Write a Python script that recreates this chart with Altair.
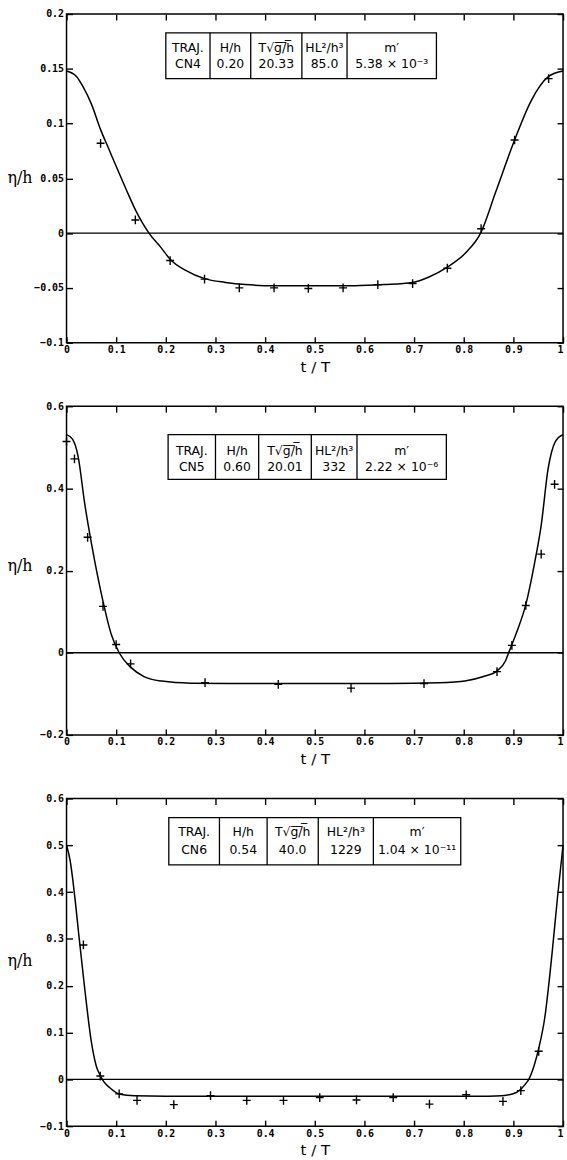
import altair as alt
import pandas as pd

# ---------------- data ----------------
# CN4
p1_t = [0.0686, 0.1386, 0.2087, 0.278, 0.348, 0.418, 0.487, 0.557, 0.627, 0.697, 0.767, 0.835, 0.9025, 0.971]
p1_eta = [0.082, 0.012, -0.025, -0.042, -0.050, -0.050, -0.0505, -0.050, -0.047, -0.046, -0.032, 0.004, 0.085, 0.141]
c1_t = [0.0, 0.02, 0.034, 0.05, 0.069, 0.085, 0.1, 0.12, 0.139, 0.152, 0.166, 0.19, 0.209, 0.24, 0.278,
        0.32, 0.36, 0.42, 0.5, 0.58, 0.64, 0.697, 0.73, 0.767, 0.806, 0.834, 0.864, 0.9025, 0.936, 0.971, 1.0]
c1_eta = [0.148, 0.143, 0.133, 0.118, 0.094, 0.077, 0.061, 0.040, 0.021, 0.010, 0.0, -0.013, -0.024, -0.034, -0.0415,
          -0.045, -0.047, -0.048, -0.048, -0.048, -0.047, -0.045, -0.040, -0.031, -0.017, 0.0, 0.037, 0.085, 0.121, 0.143, 0.148]

# CN5
p2_t = [0.0, 0.016, 0.0425, 0.0735, 0.100, 0.129, 0.279, 0.4265, 0.573, 0.720, 0.867, 0.897, 0.925, 0.956, 0.983]
p2_eta = [0.514, 0.472, 0.281, 0.113, 0.020, -0.027, -0.073, -0.077, -0.086, -0.075, -0.046, 0.018, 0.115, 0.240, 0.410]
c2_t = [0.0, 0.012, 0.023, 0.037, 0.052, 0.0735, 0.09, 0.106, 0.129, 0.156, 0.192, 0.25, 0.35, 0.5, 0.65,
        0.75, 0.805, 0.84, 0.867, 0.884, 0.8905, 0.906, 0.925, 0.942, 0.956, 0.970, 0.985, 1.0]
c2_eta = [0.531, 0.52, 0.48, 0.36, 0.254, 0.125, 0.045, 0.0, -0.035, -0.058, -0.069, -0.074, -0.075, -0.075, -0.075,
          -0.073, -0.068, -0.058, -0.044, -0.02, 0.0, 0.048, 0.117, 0.214, 0.31, 0.448, 0.515, 0.531]

# CN6
p3_t = [0.034, 0.068, 0.106, 0.142, 0.216, 0.290, 0.363, 0.437, 0.510, 0.584, 0.658, 0.731, 0.805, 0.879, 0.915, 0.951]
p3_eta = [0.287, 0.007, -0.031, -0.045, -0.054, -0.035, -0.045, -0.045, -0.039, -0.044, -0.039, -0.053, -0.033, -0.047, -0.024, 0.060]
c3_t = [0.0, 0.007, 0.018, 0.025, 0.036, 0.050, 0.060, 0.068, 0.075, 0.086, 0.108, 0.137, 0.2, 0.3, 0.5, 0.7,
        0.85, 0.877, 0.906, 0.917, 0.928, 0.931, 0.942, 0.951, 0.963, 0.978, 0.989, 1.0]
c3_eta = [0.50, 0.469, 0.377, 0.306, 0.20, 0.08, 0.028, 0.008, -0.005, -0.017, -0.032, -0.035, -0.036, -0.036, -0.036, -0.036,
          -0.036, -0.035, -0.028, -0.019, -0.005, 0.0, 0.030, 0.066, 0.13, 0.27, 0.39, 0.50]

# axis ticks
x_ticks = [0, 0.1, 0.2, 0.3, 0.4, 0.5, 0.6, 0.7, 0.8, 0.9, 1]
y1_ticks = [-0.1, -0.05, 0, 0.05, 0.1, 0.15, 0.2]
y2_ticks = [-0.2, 0, 0.2, 0.4, 0.6]
y3_ticks = [-0.1, 0, 0.1, 0.2, 0.3, 0.4, 0.5, 0.6]

# table texts
headers = ["TRAJ.", "H/h", "T√g̅/̅h̅", "HL²/h³", "m′"]
t1_vals = ["CN4", "0.20", "20.33", "85.0", "5.38 × 10⁻³"]
t2_vals = ["CN5", "0.60", "20.01", "332", "2.22 × 10⁻⁶"]
t3_vals = ["CN6", "0.54", "40.0", "1229", "1.04 × 10⁻¹¹"]

# table layout (in data units of each panel): column edges, [top, bottom, row1, row2]
t1_cols = [0.200, 0.289, 0.371, 0.474, 0.565, 0.745]
t1_rows = [0.1828, 0.1411, 0.1688, 0.1547]
t2_cols = [0.2046, 0.300, 0.387, 0.493, 0.585, 0.765]
t2_rows = [0.531, 0.422, 0.492, 0.452]
t3_cols = [0.206, 0.308, 0.404, 0.507, 0.618, 0.794]
t3_rows = [0.559, 0.458, 0.529, 0.490]

INWARD = {"expr": "-6"}
W = 500


def panel(pt, pe, ct, ce, ydom, yticks, title_y, h, cols, rows, vals):
    xs = alt.Scale(domain=[0, 1], nice=False, zero=False)
    ys = alt.Scale(domain=ydom, nice=False, zero=False)
    curve = pd.DataFrame({"t": ct, "eta": ce})
    pts = pd.DataFrame({"t": pt, "eta": pe})

    line = alt.Chart(curve).mark_line(interpolate="monotone", color="black", strokeWidth=1.5).encode(
        x=alt.X("t:Q", scale=xs, axis=alt.Axis(
            values=x_ticks, format="~g", title="t / T", orient="bottom", tickSize=INWARD,
            labelPadding=8, labelFlush=False,
            labelAlign={"expr": "datum.value >= 1 ? 'right' : 'center'"},
            titleX=W / 2, titleY=24, titleBaseline="middle", titleAlign="center",
            titleFont="DejaVu Sans", titleFontSize=15, titleFontWeight="normal")),
        y=alt.Y("eta:Q", scale=ys, axis=alt.Axis(
            values=yticks, format="~g", title="η/h", orient="left", tickSize=INWARD,
            labelPadding=9,
            titleAngle=0, titleAlign="left", titleBaseline="middle", titleX=-60, titleY=title_y,
            titleFont="DejaVu Serif", titleFontSize=16, titleFontWeight="normal")),
    )
    points = alt.Chart(pts).mark_point(
        shape="M-1,0H1M0,-1.1V1.1", filled=False, color="black", strokeWidth=1.4, size=64, opacity=1
    ).encode(
        x=alt.X("t:Q", scale=xs, axis=alt.Axis(values=x_ticks, orient="top", labels=False, title=None, tickSize=INWARD)),
        y=alt.Y("eta:Q", scale=ys, axis=alt.Axis(values=yticks, orient="right", labels=False, title=None, tickSize=INWARD)),
    )
    zero = alt.Chart(pd.DataFrame({"z": [0]})).mark_rule(color="black", strokeWidth=1.4).encode(
        y=alt.Y("z:Q", scale=ys, axis=None)
    )
    tab = pd.DataFrame({"x0": [cols[0]], "x1": [cols[-1]], "y0": [rows[0]], "y1": [rows[1]]})
    rect = alt.Chart(tab).mark_rect(fill="white", stroke="black", strokeWidth=1.3).encode(
        x=alt.X("x0:Q", scale=xs, axis=None), x2="x1:Q",
        y=alt.Y("y0:Q", scale=ys, axis=None), y2="y1:Q",
    )
    seps = pd.DataFrame({"xs": cols[1:-1], "y0": [rows[0]] * 4, "y1": [rows[1]] * 4})
    sep = alt.Chart(seps).mark_rule(color="black", strokeWidth=1.3).encode(
        x=alt.X("xs:Q", scale=xs, axis=None),
        y=alt.Y("y0:Q", scale=ys, axis=None), y2="y1:Q",
    )
    centers = [(cols[i] + cols[i + 1]) / 2 for i in range(5)]
    txt = pd.DataFrame({
        "cx": centers + centers,
        "cy": [rows[2]] * 5 + [rows[3]] * 5,
        "s": headers + vals,
    })
    text = alt.Chart(txt).mark_text(font="DejaVu Sans", fontSize=12.5, color="black",
                                    align="center", baseline="middle").encode(
        x=alt.X("cx:Q", scale=xs, axis=None),
        y=alt.Y("cy:Q", scale=ys, axis=None),
        text="s:N",
    )
    return alt.layer(zero, line, points, rect, sep, text).resolve_axis(
        x="independent", y="independent"
    ).properties(width=W, height=h)


p1 = panel(p1_t, p1_eta, c1_t, c1_eta, [-0.1, 0.2], y1_ticks, 165, 331, t1_cols, t1_rows, t1_vals)
p2 = panel(p2_t, p2_eta, c2_t, c2_eta, [-0.2, 0.6], y2_ticks, 160, 331, t2_cols, t2_rows, t2_vals)
p3 = panel(p3_t, p3_eta, c3_t, c3_eta, [-0.1, 0.6], y3_ticks, 163, 330, t3_cols, t3_rows, t3_vals)

chart = alt.vconcat(p1, p2, p3, spacing=25).properties(
    padding={"left": 6, "top": 4, "right": 0, "bottom": 0},
    background="white",
).configure_view(stroke="black", strokeWidth=1.5).configure_axis(
    grid=False, domain=False, tickColor="black", tickWidth=1.4,
    labelFont="DejaVu Sans Mono", labelFontWeight="bold", labelFontSize=10, labelColor="black",
    titleColor="black",
)

chart.save("out.html", embed_options={"renderer": "svg", "actions": False})
